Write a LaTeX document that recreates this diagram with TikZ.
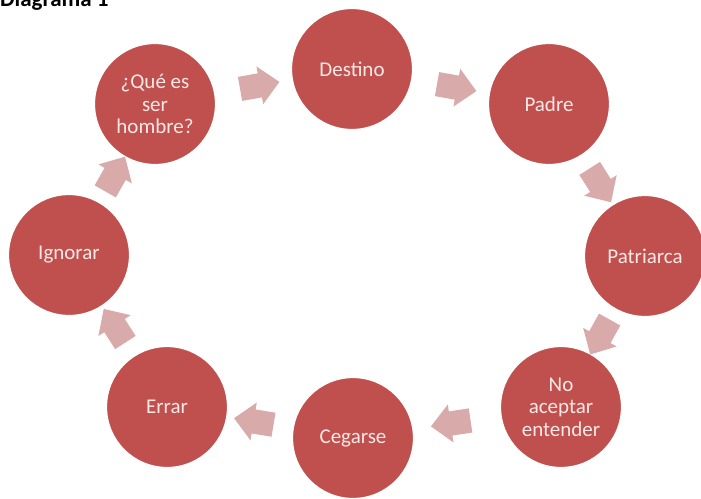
\documentclass[tikz,border=0pt]{standalone}
\usepackage{fontspec}
\setmainfont{Carlito}
\usetikzlibrary{shapes.arrows}

\definecolor{rojoetapa}{HTML}{C0504D}
\definecolor{rosaflecha}{HTML}{D9AAAA}
\definecolor{textoetapa}{HTML}{FBE8E6}

\tikzset{
	etapa/.style={circle, fill=rojoetapa, draw=white, line width=1.2pt,
		minimum size=121pt, inner sep=0pt, text=textoetapa, align=center,
		font=\fontsize{21}{22.5}\selectfont},
	flecha/.style={single arrow, fill=rosaflecha, draw=none,
		inner xsep=0pt, inner ysep=12pt, minimum height=40pt,
		single arrow head extend=7pt, single arrow tip angle=88,
		sloped, allow upside down}
}

\begin{document}
\begin{tikzpicture}[x=1pt,y=-1pt]
	\useasboundingbox (0,0) rectangle (701,498);
	
	%title (cut at the top)
	\node[anchor=base west, inner sep=0pt, font=\bfseries\fontsize{23}{26}\selectfont] (titulo) at (0,6) {Diagrama 1};
	
	%circles
	\node[etapa] (hombre)    at (155,104) {¿Qué es\\ser\\hombre?};
	\node[etapa] (destino)   at (352,69)  {Destino};
	\node[etapa] (padre)     at (549,104) {Padre};
	\node[etapa] (patriarca) at (645,256) {Patriarca};
	\node[etapa] (noaceptar) at (561,407) {No\\aceptar\\entender};
	\node[etapa] (cegarse)   at (353,438) {Cegarse};
	\node[etapa] (errar)     at (167,407) {Errar};
	\node[etapa] (ignorar)   at (69,255)  {Ignorar};
	
		%arrows between circles
		\path (hombre)--(destino)      node[flecha, midway] {};	%hombre--destino
		\path (destino)--(padre)       node[flecha, midway] {};	%destino--padre
		\path (padre)--(patriarca)     node[flecha, midway] {};	%padre--patriarca
		\path (patriarca)--(noaceptar) node[flecha, midway] {};	%patriarca--noaceptar
		\path (noaceptar)--(cegarse)   node[flecha, midway] {};	%noaceptar--cegarse
		\path (cegarse)--(errar)       node[flecha, midway] {};	%cegarse--errar
		\path (errar)--(ignorar)       node[flecha, midway] {};	%errar--ignorar
		\path (ignorar)--(hombre)      node[flecha, midway] {};	%ignorar--hombre
\end{tikzpicture}
\end{document}
